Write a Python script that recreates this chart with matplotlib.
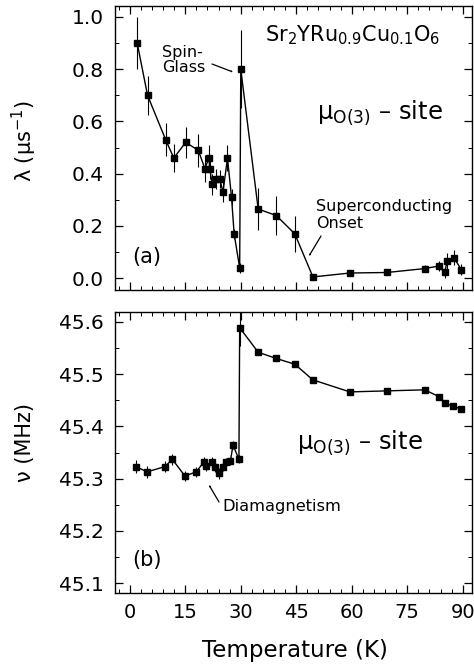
import matplotlib
matplotlib.use("Agg")
import matplotlib.pyplot as plt
from matplotlib.ticker import MultipleLocator

# ---- data: relaxation rate lambda (top panel) ----
T_lam = [2.0, 4.8, 9.7, 11.9, 15.1, 18.5, 20.3, 21.4, 21.6, 22.3, 23.4, 24.3, 25.2,
         26.4, 27.5, 28.2, 29.7, 30.0, 34.7, 39.6, 44.6, 49.5, 59.5, 69.5, 79.7,
         83.6, 85.1, 85.8, 87.6, 89.6]
lam = [0.90, 0.70, 0.53, 0.46, 0.52, 0.49, 0.42, 0.46, 0.42, 0.36, 0.38, 0.38, 0.33,
       0.46, 0.31, 0.17, 0.04, 0.80, 0.265, 0.24, 0.17, 0.005, 0.02, 0.022, 0.037,
       0.047, 0.022, 0.065, 0.079, 0.033]
lam_err = [0.10, 0.075, 0.063, 0.053, 0.06, 0.063, 0.05, 0.05, 0.04, 0.04, 0.04, 0.035,
           0.04, 0.05, 0.03, 0.02, 0.02, 0.15, 0.08, 0.075, 0.07, 0.01, 0.01, 0.01,
           0.015, 0.02, 0.02, 0.03, 0.03, 0.02]

# ---- data: precession frequency nu (bottom panel) ----
T_nu = [1.6, 4.7, 9.5, 11.5, 14.9, 18.0, 20.0, 20.6, 22.1, 22.9, 24.1, 25.2, 26.1,
        27.2, 27.9, 29.5, 29.7, 34.7, 39.6, 44.6, 49.5, 59.5, 69.5, 79.7, 83.6,
        85.1, 87.4, 89.5]
nu = [45.323, 45.313, 45.323, 45.337, 45.305, 45.313, 45.332, 45.324, 45.331, 45.322,
      45.310, 45.323, 45.332, 45.334, 45.364, 45.337, 45.589, 45.542, 45.530, 45.519,
      45.489, 45.466, 45.468, 45.470, 45.457, 45.444, 45.439, 45.433]
nu_err = [0.012, 0.012, 0.010, 0.010, 0.010, 0.010, 0.010, 0.010, 0.010, 0.010,
          0.010, 0.008, 0.008, 0.008, 0.008, 0.008, 0.035, 0.004, 0.004, 0.004,
          0.003, 0.003, 0.003, 0.003, 0.003, 0.003, 0.003, 0.003]

x_ticks = [0, 15, 30, 45, 60, 75, 90]
lam_ticks = [0.0, 0.2, 0.4, 0.6, 0.8, 1.0]
nu_ticks = [45.1, 45.2, 45.3, 45.4, 45.5, 45.6]

plt.rcParams['font.family'] = ['DejaVu Sans']
plt.rcParams['mathtext.fontset'] = 'dejavusans'

W, H = 474, 670
fig = plt.figure(figsize=(W / 100, H / 100), dpi=100)

def fx(px):
    return px / W

def fy(py):
    return 1 - py / H

ax1 = fig.add_axes([fx(115), fy(290), fx(472) - fx(115), fy(6) - fy(290)])
ax2 = fig.add_axes([fx(115), fy(593), fx(472) - fx(115), fy(312) - fy(593)])

kw = dict(color='black', lw=1.0, marker='s', ms=3.8, elinewidth=0.8, capsize=0,
          ecolor='black', mfc='black', mec='black')
ax1.errorbar(T_lam, lam, yerr=lam_err, **kw)
ax2.errorbar(T_nu, nu, yerr=nu_err, **kw)

for ax in (ax1, ax2):
    ax.set_xlim(-4, 92.5)
    ax.set_xticks(x_ticks)
    ax.xaxis.set_minor_locator(MultipleLocator(3))
    ax.tick_params(which='both', direction='in', top=True, right=True)
    ax.tick_params(which='major', length=6, width=0.9, labelsize=14.5, pad=8)
    ax.tick_params(which='minor', length=3, width=0.7)
    for s in ax.spines.values():
        s.set_linewidth(1.0)

ax1.set_ylim(-0.045, 1.042)
ax1.set_yticks(lam_ticks)
ax1.set_yticklabels([f"{v:.1f}" for v in lam_ticks])
ax1.yaxis.set_minor_locator(MultipleLocator(0.1))
ax1.tick_params(axis='x', labelbottom=False)

ax2.set_ylim(45.081, 45.619)
ax2.set_yticks(nu_ticks)
ax2.set_yticklabels([f"{v:.1f}" for v in nu_ticks])
ax2.yaxis.set_minor_locator(MultipleLocator(0.05))
ax2.set_xticklabels([str(v) for v in x_ticks])
ax2.tick_params(axis='x', pad=7, labelsize=14)

# axis labels
fig.text(fx(24), fy(141), 'λ (μs$^{-1}$)', rotation=90,
         ha='center', va='center', fontsize=15)
fig.text(fx(25), fy(443), 'ν (MHz)', rotation=90,
         ha='center', va='center', fontsize=15)
fig.text(fx(295), fy(651), 'Temperature (K)', ha='center', va='center', fontsize=16.5)

# annotations
fig.text(fx(265), fy(35), r'Sr$_2$YRu$_{0.9}$Cu$_{0.1}$O$_6$', ha='left', va='center',
         fontsize=15)
fig.text(fx(317), fy(113), 'μ$_{\\mathrm{O(3)}}$ – site', ha='left', va='center',
         fontsize=17.5)
fig.text(fx(297), fy(443), 'μ$_{\\mathrm{O(3)}}$ – site', ha='left', va='center',
         fontsize=17.5)
fig.text(fx(162), fy(60), 'Spin-\nGlass', ha='left', va='center', fontsize=11.5,
         linespacing=1.05)
fig.text(fx(316), fy(215), 'Superconducting\nOnset', ha='left', va='center',
         fontsize=11.5, linespacing=1.15)
fig.text(fx(222), fy(507), 'Diamagnetism', ha='left', va='center', fontsize=11.7)
fig.text(fx(132), fy(257), '(a)', ha='left', va='center', fontsize=15)
fig.text(fx(132), fy(560), '(b)', ha='left', va='center', fontsize=15)

ap = dict(arrowstyle='->', lw=0.9, color='black', shrinkA=0, shrinkB=0)
fig.add_artist(matplotlib.patches.FancyArrowPatch((fx(212), fy(64)), (fx(233), fy(72)),
               transform=fig.transFigure, **ap))
fig.add_artist(matplotlib.patches.FancyArrowPatch((fx(321), fy(236)), (fx(309), fy(256)),
               transform=fig.transFigure, **ap))
fig.add_artist(matplotlib.patches.FancyArrowPatch((fx(219), fy(502)), (fx(209), fy(485)),
               transform=fig.transFigure, **ap))

fig.savefig('out.png', dpi=100)
